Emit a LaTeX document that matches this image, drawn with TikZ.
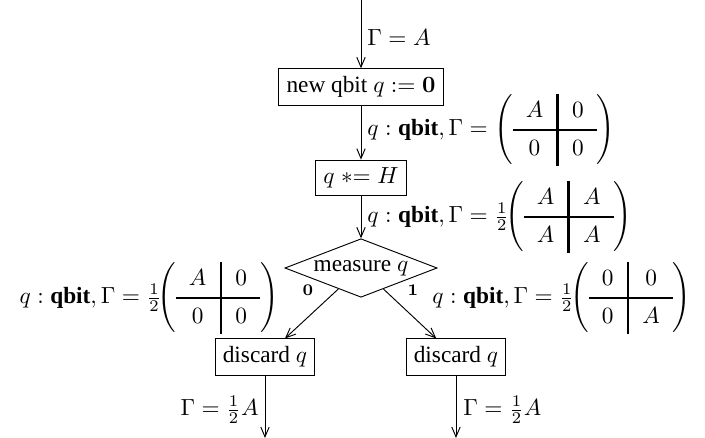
\documentclass[tikz,border=0pt]{standalone}
\usepackage{amsmath}
\usepackage{array}
\usepackage[no-math]{fontspec}
\setmainfont{Liberation Serif}
\usetikzlibrary{shapes.geometric,arrows.meta}
\newcommand{\rst}{\vrule height 10.3pt depth 4.7pt width 0pt}
\newcommand{\qmat}[4]{{\setlength{\arraycolsep}{5.6pt}\mathopen{}\left(\begin{array}{c!{\vrule width 1.2pt}c} \rst #1 & #2 \\ \noalign{\hrule height 1.2pt} \rst #3 & #4 \end{array}\right)}}
\newcommand{\qbt}{\text{\bfseries qbit}}
\newcommand{\hlf}{\mathord{\frac12}}
\begin{document}
\begin{tikzpicture}[x=0.429pt,y=-0.429pt,
  box/.style={draw,rectangle,inner sep=3.3pt},
  flow/.style={-{Straight Barb[length=4.2pt,width=3.6pt]}},
  lab/.style={inner sep=0pt},
  bit/.style={inner sep=0pt,font=\scriptsize}]
\useasboundingbox (0,0) rectangle (705,438);
\coordinate (top) at (361,0);
\node[box] (new) at (361,87) {new qbit $q := \mathbf{0}$};
\node[box] (had) at (361,178) {$q \mathrel{*{=}} H$};
\node[diamond,draw,aspect=2.6,inner sep=0pt] (meas) at (361,268) {\makebox[48pt]{measure $q$}};
\node[box] (dl) at (265,357) {discard $q$};
\node[box] (dr) at (456,357) {discard $q$};
\coordinate (el) at (265,438);
\coordinate (er) at (456,438);
\draw[flow] (top) -- (new);
\draw[flow] (new) -- (had);
\draw[flow] (had) -- (meas);
\draw[flow] (meas) -- (dl);
\draw[flow] (meas) -- (dr);
\draw[flow] (dl) -- (el);
\draw[flow] (dr) -- (er);
\node[lab,anchor=west] (g0) at (367,38) {$\Gamma = A$};
\node[lab,anchor=west] (g1) at (367,130) {$q : \qbt, \Gamma = \qmat{A}{0}{0}{0}$};
\node[lab,anchor=west] (g2) at (367,217) {$q : \qbt, \Gamma = \hlf\!\qmat{A}{A}{A}{A}$};
\node[lab,anchor=east] (g3) at (279,298) {$q : \qbt, \Gamma = \hlf\!\qmat{A}{0}{0}{0}$};
\node[lab,anchor=west] (g4) at (432,298) {$q : \qbt, \Gamma = \hlf\!\qmat{0}{0}{0}{A}$};
\node[bit] (b0) at (308,290) {$\mathbf{0}$};
\node[bit] (b1) at (413,290) {$\mathbf{1}$};
\node[lab,anchor=east] (g5) at (259,410) {$\Gamma = \frac12 A$};
\node[lab,anchor=west] (g6) at (463,410) {$\Gamma = \frac12 A$};
\end{tikzpicture}
\end{document}
